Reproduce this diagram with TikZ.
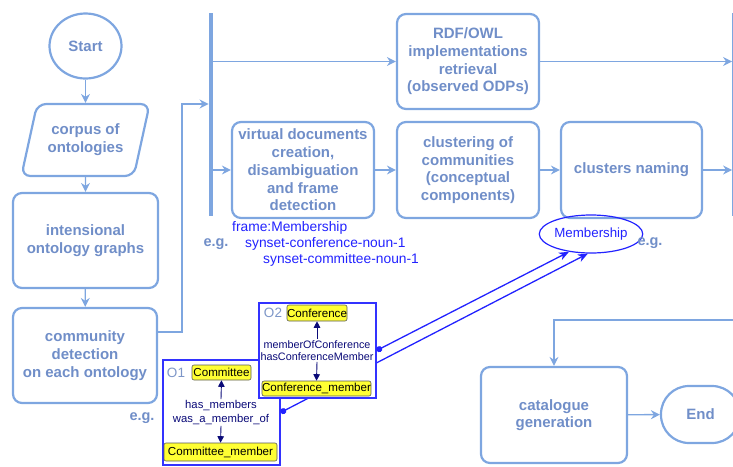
\documentclass[tikz,border=0pt]{standalone}
\usepackage{fontspec}
\setmainfont{Liberation Sans}
\usetikzlibrary{shapes.geometric,arrows.meta}
\definecolor{strokec}{RGB}{126,166,224}
\definecolor{textc}{RGB}{112,142,200}
\definecolor{olabel}{RGB}{125,150,200}
\definecolor{bluet}{RGB}{34,34,255}
\definecolor{oborder}{RGB}{50,50,255}
\definecolor{navyc}{RGB}{10,10,120}
\definecolor{yel}{RGB}{255,255,51}
\begin{document}
\begin{tikzpicture}[x=1pt,y=-1pt,
  box/.style={draw=strokec, line width=2.2pt, rounded corners=9pt, align=center, text=textc,
    font=\bfseries\fontsize{15}{17.7}\selectfont, inner sep=0pt},
  flow/.style={draw=strokec, line width=1.4pt, -{Stealth[length=9pt,width=9pt,inset=3pt]}},
  bartype/.style={fill=strokec, draw=none, minimum width=4.5pt, minimum height=203pt, inner sep=0pt},
  eg/.style={text=textc, font=\bfseries\fontsize{14.5}{17}\selectfont, inner sep=0pt},
  bluetext/.style={text=bluet, font=\fontsize{13.8}{16}\selectfont, inner sep=0pt, anchor=west},
  obox/.style={draw=oborder, line width=1.2pt, fill=white, inner sep=0pt},
  olab/.style={text=olabel, font=\fontsize{13.5}{15}\selectfont, inner sep=0pt},
  yelnode/.style={draw=black!65, fill=yel, rounded corners=2pt, line width=0.6pt, inner sep=0pt,
    font=\fontsize{11.6}{13}\selectfont, text=black},
  rellabel/.style={text=navyc, align=center, font=\fontsize{11.3}{14}\selectfont, inner sep=0pt},
  navyarrow/.style={draw=navyc, line width=0.9pt, -{Triangle[length=6.5pt,width=6.5pt]}},
  link/.style={draw=bluet, line width=1.3pt, {Circle[length=6pt]}-{Stealth[length=10pt,width=8pt,inset=3pt]}}
]
\useasboundingbox (0,0) rectangle (733,466);
\clip (0,0) rectangle (733,466);

% left column
\node[box, ellipse, minimum width=72pt, minimum height=65pt] (start) at (85.5,46) {Start};
\node[box, trapezium, trapezium left angle=68.7, trapezium right angle=111.3, trapezium stretches=true,
  minimum width=129pt, minimum height=72pt] (corpus) at (85.5,140) {corpus of\\ontologies};
\node[box, minimum width=145pt, minimum height=95pt] (int) at (85.5,240.5) {intensional\\ontology graphs};
\node[box, minimum width=144pt, minimum height=95pt] (comm) at (85,355.5) {community\\detection\\on each ontology};

\draw[flow] (start) -- (corpus);
\draw[flow] (corpus) -- (int);
\draw[flow] (int) -- (comm);

% fork bars
\node[bartype] (bar) at (211,114.5) {};
\node[bartype] (rbar) at (734.5,114.5) {};
\draw[flow] ([yshift=23.5pt]comm.east) -| (182,104) -- (bar.west |- 0,104);

% processes
\node[box, minimum width=142pt, minimum height=95pt] (rdf) at (468,61.5) {RDF/OWL\\implementations\\retrieval\\(observed ODPs)};
\node[box, minimum width=142pt, minimum height=96pt] (virt) at (303,170) {virtual documents\\creation,\\disambiguation\\and frame\\detection};
\node[box, minimum width=142pt, minimum height=96pt] (clust) at (468,170) {clustering of\\communities\\(conceptual\\components)};
\node[box, minimum width=141pt, minimum height=96pt] (naming) at (631.5,170) {clusters naming};

\draw[flow] (bar.east |- rdf.west) -- (rdf.west);
\draw[flow] (bar.east |- virt.west) -- (virt.west);
\draw[flow] (virt) -- (clust);
\draw[flow] (clust) -- (naming);
\draw[flow] (rdf.east) -- (rbar.west |- rdf.east);
\draw[flow] (naming.east) -- (rbar.west |- naming.east);

% catalogue and end
\node[box, minimum width=146pt, minimum height=96pt] (cat) at (554,415) {catalogue\\generation};
\node[box, rounded corners=28pt, minimum width=79pt, minimum height=57pt] (end) at (700.5,414.5) {End};
\coordinate (cin) at (733,320);
\draw[flow] (cin) -| (cat.north);
\draw[flow] (cat) -- (end);

% example texts
\node[bluetext] (frame) at (232,228) {frame:Membership};
\node[eg] (eg1) at (216,244) {e.g.};
\node[bluetext] (syn1) at (245,244) {synset-conference-noun-1};
\node[bluetext] (syn2) at (263,260) {synset-committee-noun-1};
\node[draw=bluet, line width=1.2pt, ellipse, minimum width=91pt, minimum height=38pt, inner sep=0pt,
  text=bluet, font=\fontsize{13.3}{15}\selectfont] (mem) at (591,234) {Membership};
\node[eg] (eg2) at (650,243) {e.g.};
\node[eg] (eg3) at (142,418) {e.g.};

% O1
\node[obox, minimum width=117pt, minimum height=105pt] (o1) at (221.5,412.5) {};
\node[olab] (o1lab) at (176,372.5) {O1};
\node[yelnode, minimum width=59pt, minimum height=15pt] (committee) at (221.5,372.5) {Committee};
\node[yelnode, minimum width=113pt, minimum height=18pt] (cmember) at (220.5,452) {Committee\_member};
\node[rellabel] (r1) at (221,412.5) {has\_members\\was\_a\_member\_of};
\draw[navyarrow] ([yshift=1pt]r1.north) -- (committee.south);
\draw[navyarrow] ([yshift=-1pt]r1.south) -- (cmember.north);
\draw[link] (o1.east) -- (mem.-99);

% O2
\node[obox, minimum width=117pt, minimum height=95pt] (o2) at (317.5,350.5) {};
\node[olab] (o2lab) at (273,313) {O2};
\node[yelnode, minimum width=60pt, minimum height=16pt] (conf) at (317,313) {Conference};
\node[yelnode, minimum width=105pt, minimum height=15pt] (cfmember) at (316.5,388.5) {Conference\_member};
\node[rellabel, font=\fontsize{10.8}{12.3}\selectfont] (r2) at (317,350.5) {memberOfConference\\hasConferenceMember};
\draw[navyarrow] ([yshift=1pt]r2.north) -- (conf.south);
\draw[navyarrow] ([yshift=-1pt]r2.south) -- (cfmember.north);
\draw[link] (o2.east) -- (mem.-141);
\end{tikzpicture}
\end{document}
